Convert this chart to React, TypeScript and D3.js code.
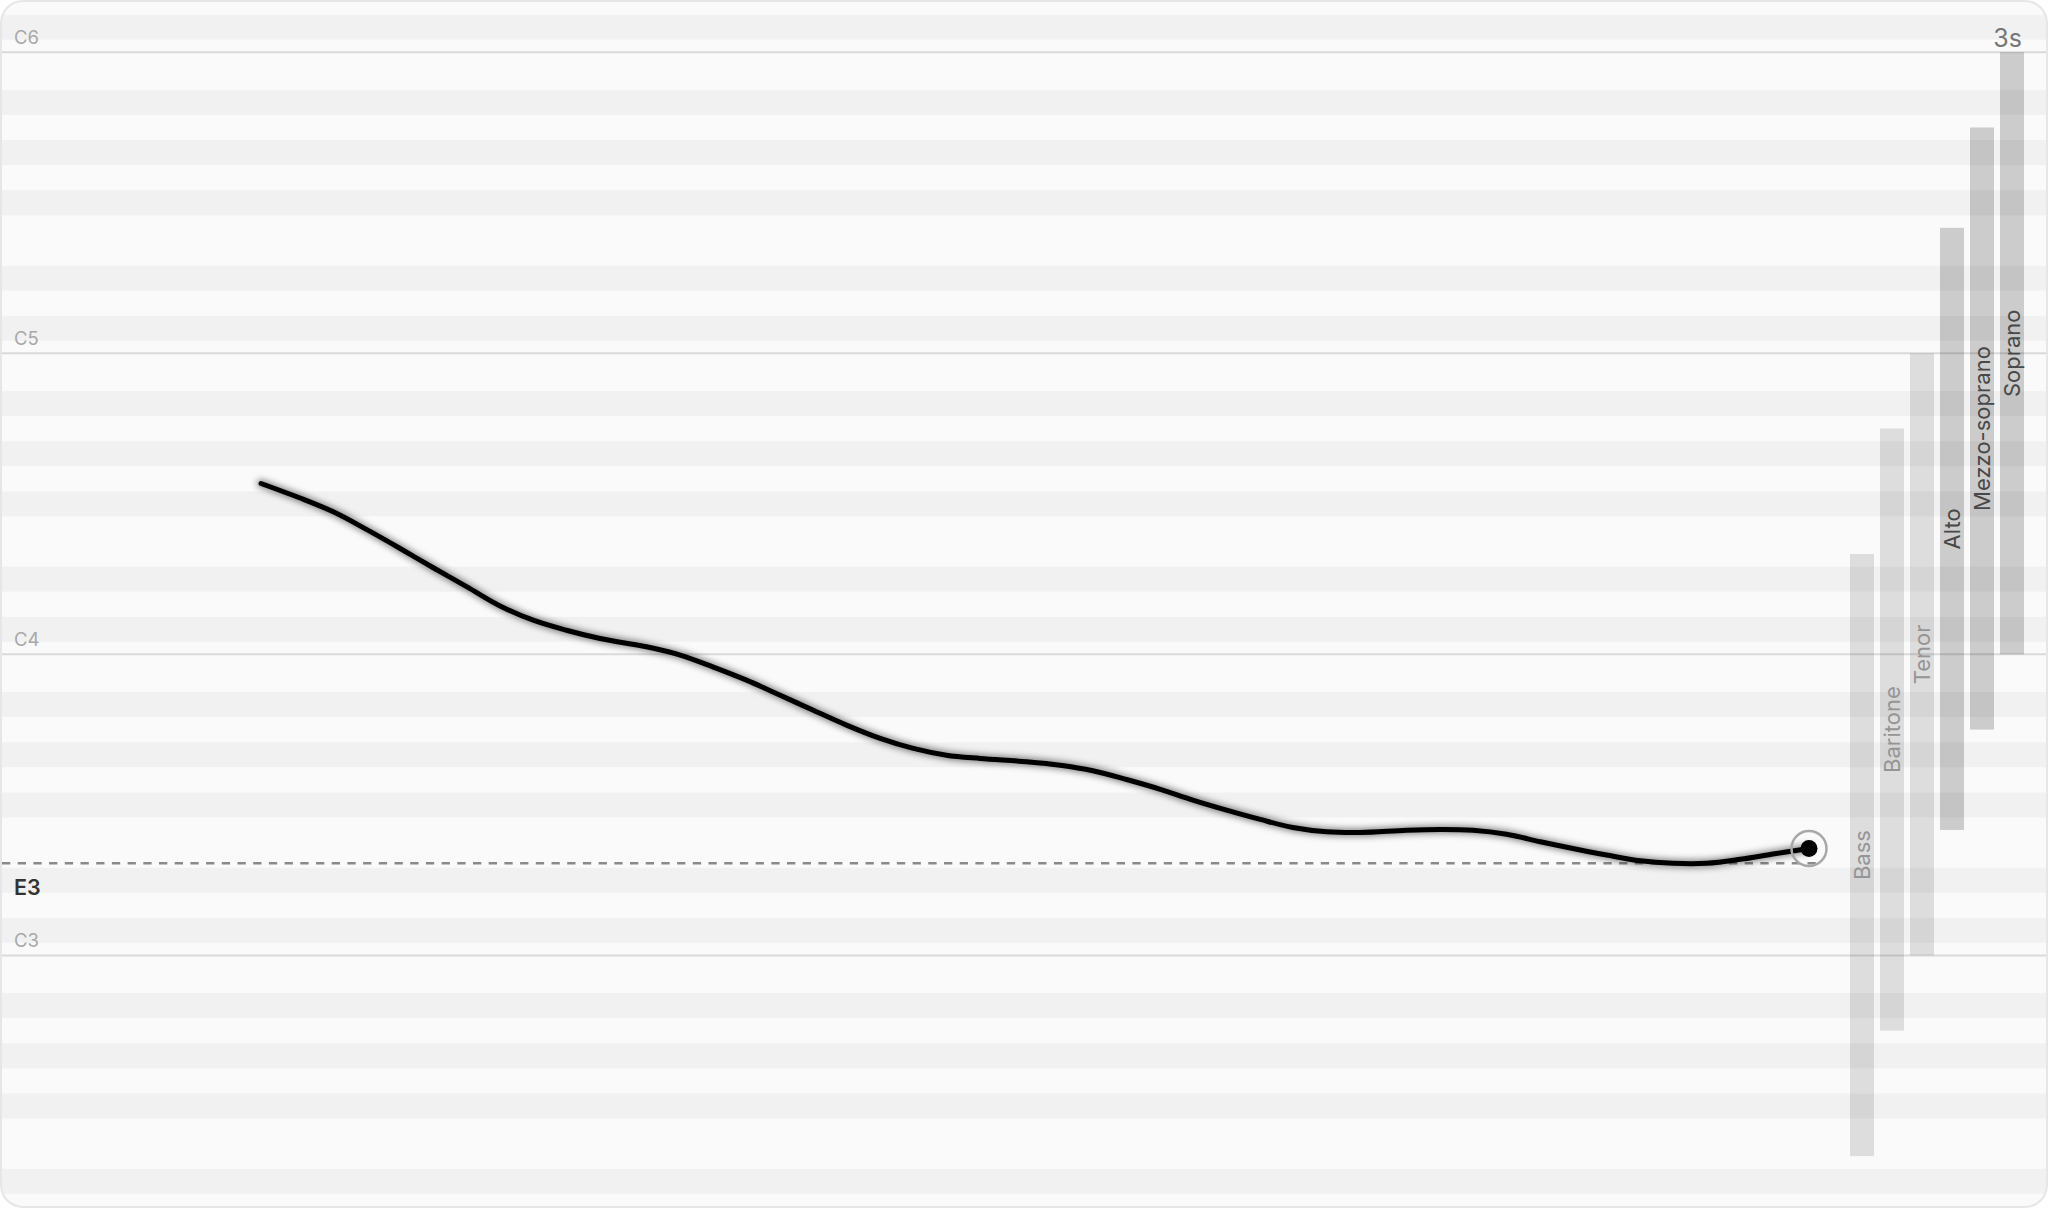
import React from "react";
import * as d3 from "d3";

const W = 2048;
const H = 1208;

// Pitch trace: time (s) within a 3 s window, pitch as MIDI note number
const traceTime = [0.43, 0.495, 0.55, 0.605, 0.661, 0.716, 0.772, 0.827, 0.882, 0.937, 0.993, 1.07, 1.126, 1.18, 1.236, 1.292, 1.346, 1.402, 1.458, 1.513, 1.568, 1.624, 1.701, 1.757, 1.811, 1.867, 1.923, 1.977, 2.033, 2.089, 2.143, 2.199, 2.255, 2.332, 2.388, 2.442, 2.498, 2.554, 2.608, 2.664, 2.72, 2.774, 2.83, 2.886, 2.94, 3.0];
const tracePitch = [66.81, 66.23, 65.68, 64.98, 64.22, 63.45, 62.69, 61.93, 61.36, 60.96, 60.63, 60.3, 59.97, 59.5, 58.97, 58.37, 57.78, 57.18, 56.65, 56.25, 55.98, 55.85, 55.72, 55.58, 55.36, 55.01, 54.62, 54.19, 53.79, 53.42, 53.1, 52.93, 52.9, 52.99, 53.02, 52.99, 52.83, 52.53, 52.26, 52.0, 51.77, 51.67, 51.67, 51.83, 52.04, 52.26];

// Reference (lowest) pitch line
const refPitch = 51.67;
const refLabel = "E3";

// Octave grid lines
const octavePitches = [48, 60, 72, 84];
const octaveLabels = ["C3", "C4", "C5", "C6"];

// Voice ranges (MIDI)
const voiceNames = ["Bass", "Baritone", "Tenor", "Alto", "Mezzo-soprano", "Soprano"];
const voiceLow = [40, 45, 48, 53, 57, 60];
const voiceHigh = [64, 69, 72, 77, 81, 84];
const voiceActive = [false, false, false, true, true, true];

const windowLabel = "3s";
const windowSeconds = [0, 3];

const blackKeys = new Set([1, 3, 6, 8, 10]);

export default function App() {
  const y = d3.scaleLinear().domain([48, 84]).range([955.4, 52.2]);
  const x = d3.scaleLinear().domain(windowSeconds).range([2, 1809]);
  const xb = d3
    .scaleBand<string>()
    .domain(voiceNames)
    .range([1847, 2027])
    .paddingInner(0.2)
    .paddingOuter(0.1);

  const rows: number[] = d3.range(36, 89);
  const pts = traceTime.map((t, i) => [t, tracePitch[i]] as [number, number]);
  const line = d3
    .line<[number, number]>()
    .x((d) => x(d[0]))
    .y((d) => y(d[1]))
    .curve(d3.curveCatmullRom.alpha(0.5));
  const pathD = line(pts) || "";
  const last = pts[pts.length - 1];

  return (
    <svg
      width={W}
      height={H}
      style={{ position: "absolute", left: 0, top: 0, display: "block", background: "#ffffff" }}
      fontFamily="Inter, 'Noto Sans', sans-serif"
    >
      <defs>
        <clipPath id="card">
          <rect x={1} y={1} width={W - 2} height={H - 2} rx={22} ry={22} />
        </clipPath>
        <filter id="blur" x="-10%" y="-50%" width="120%" height="200%">
          <feGaussianBlur stdDeviation={3} />
        </filter>
      </defs>
      <g clipPath="url(#card)">
        <rect x={0} y={0} width={W} height={H} fill="#fafafa" />
        {rows.map((m) => (
          <rect
            key={m}
            x={0}
            y={y(m + 0.5)}
            width={W}
            height={y(m - 0.5) - y(m + 0.5)}
            fill={blackKeys.has(m % 12) ? "#f1f1f1" : "#fafafa"}
          />
        ))}
        {octavePitches.map((m, i) => (
          <g key={m}>
            <line x1={0} x2={W} y1={y(m)} y2={y(m)} stroke="#dadada" strokeWidth={2} />
            <text x={14} y={y(m) - 8} fontSize={18.5} fill="#a8a8a8">
              {octaveLabels[i]}
            </text>
          </g>
        ))}
        {voiceNames.map((n, i) => {
          const bx = xb(n) as number;
          const bw = xb.bandwidth();
          const top = y(voiceHigh[i]);
          const bot = y(voiceLow[i]);
          const cx = bx + bw / 2;
          const cy = (top + bot) / 2;
          return (
            <g key={n}>
              <rect
                x={bx}
                y={top}
                width={bw}
                height={bot - top}
                fill="#000"
                fillOpacity={voiceActive[i] ? 0.185 : 0.115}
              />
              <text
                x={cx}
                y={cy}
                transform={`rotate(-90 ${cx} ${cy})`}
                textAnchor="middle"
                dominantBaseline="central"
                fontSize={22}
                fill={voiceActive[i] ? "#484848" : "#959595"}
              >
                {n}
              </text>
            </g>
          );
        })}
        <line
          x1={2}
          x2={x(last[0]) + 8}
          y1={y(refPitch)}
          y2={y(refPitch)}
          stroke="#8a8a8a"
          strokeWidth={2.5}
          strokeDasharray="8.3 7.4"
        />
        <text x={14} y={y(refPitch) + 32} fontSize={21.5} fontWeight={600} fill="#333">
          {refLabel}
        </text>
        <path d={pathD} fill="none" stroke="#000" strokeOpacity={0.45} strokeWidth={8.5} filter="url(#blur)" strokeLinecap="round" />
        <path d={pathD} fill="none" stroke="#000" strokeWidth={5} strokeLinecap="round" strokeLinejoin="round" />
        <circle cx={x(last[0])} cy={y(last[1])} r={17.5} fill="none" stroke="#a8a8a8" strokeWidth={2.5} />
        <circle cx={x(last[0])} cy={y(last[1])} r={8.5} fill="#000" />
        <text x={2022} y={47} textAnchor="end" fontSize={25} fill="#777">
          {windowLabel}
        </text>
      </g>
      <rect x={1} y={1} width={W - 2} height={H - 2} rx={22} ry={22} fill="none" stroke="#e6e6e6" strokeWidth={2} />
    </svg>
  );
}
